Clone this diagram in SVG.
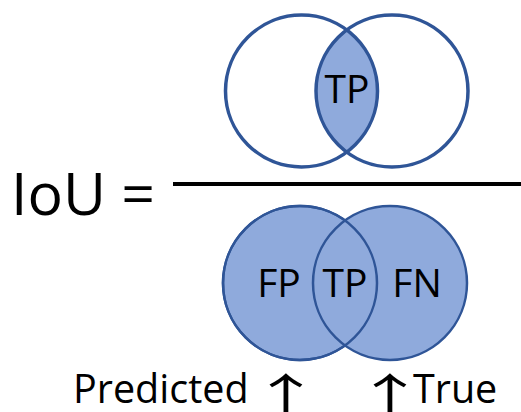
<svg xmlns="http://www.w3.org/2000/svg" width="521" height="412" viewBox="0 0 521 412">
  <style>
    .lbl { font-family: "Open Sans", "Noto Sans", "DejaVu Sans", sans-serif; fill: #000; }
    .arrow { font-family: "Noto Sans CJK SC", "DejaVu Sans", sans-serif; fill: #000; font-size: 44px; }
    .ring-top { fill: none; stroke: #2F5597; stroke-width: 3.5; }
    .ring-bot { fill: #8FAADC; stroke: #2F5597; stroke-width: 2.5; }
    .ring-bot-line { fill: none; stroke: #2F5597; stroke-width: 2.5; }
  </style>
  <defs>
    <clipPath id="clip-left-top">
      <circle cx="301.5" cy="91" r="76"/>
    </clipPath>
  </defs>
  <rect width="521" height="412" fill="#fff"/>

  <!-- numerator: intersection only -->
  <g id="numerator">
    <circle cx="301.5" cy="91" r="76" fill="#fff"/>
    <circle cx="392" cy="91" r="76" fill="#fff"/>
    <circle cx="392" cy="91" r="76" fill="#8FAADC" clip-path="url(#clip-left-top)"/>
    <circle class="ring-top" cx="301.5" cy="91" r="76"/>
    <circle class="ring-top" cx="392" cy="91" r="76"/>
    <text class="lbl" x="347" y="103" font-size="39" text-anchor="middle">TP</text>
  </g>

  <!-- fraction bar and left side -->
  <g id="equation">
    <text class="lbl" x="11" y="215" font-size="59">IoU =</text>
    <line x1="173" y1="184" x2="521" y2="184" stroke="#000" stroke-width="4"/>
  </g>

  <!-- denominator: union -->
  <g id="denominator">
    <circle class="ring-bot" cx="300" cy="283" r="77"/>
    <circle class="ring-bot" cx="390" cy="283" r="77"/>
    <circle class="ring-bot-line" cx="300" cy="283" r="77"/>
    <text class="lbl" x="279" y="297" font-size="39" text-anchor="middle">FP</text>
    <text class="lbl" x="345" y="297" font-size="39" text-anchor="middle">TP</text>
    <text class="lbl" x="417" y="297" font-size="39" text-anchor="middle">FN</text>
  </g>

  <!-- captions under the sets -->
  <g id="captions">
    <text class="lbl" x="73" y="403" font-size="39.5">Predicted</text>
    <text class="arrow" transform="translate(286 411) scale(1.6 1)" text-anchor="middle">↑</text>
    <text class="arrow" transform="translate(390 411) scale(1.6 1)" text-anchor="middle">↑</text>
    <text class="lbl" x="413" y="403" font-size="39.5">True</text>
  </g>
</svg>
